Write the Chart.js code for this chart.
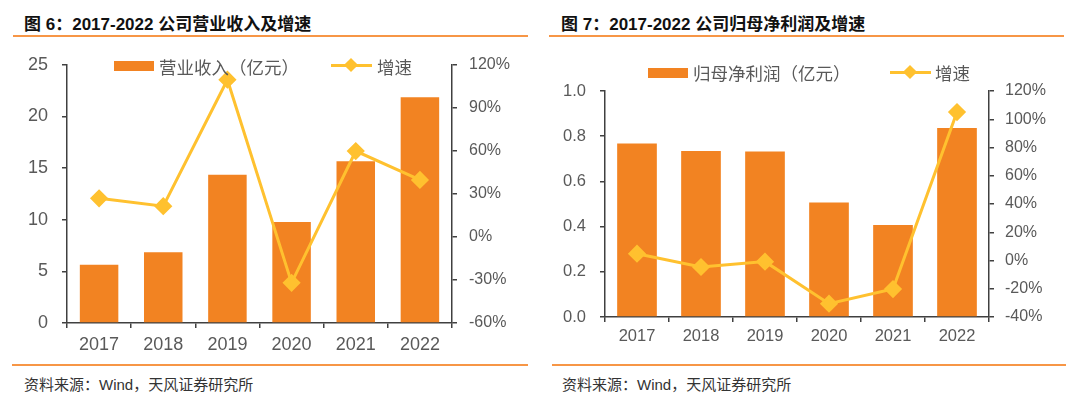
<!DOCTYPE html>
<html>
<head>
<meta charset="utf-8">
<script src="https://cdn.jsdelivr.net/npm/chart.js@4"></script>
<style>
  body { margin: 0; width: 1080px; height: 402px; background: #fff; position: relative; overflow: hidden;
         font-family: "Liberation Sans", "Noto Sans CJK SC", sans-serif; }
  .title { position: absolute; top: 10px; font-size: 17px; font-weight: bold; color: #111; white-space: nowrap; }
  .rule { position: absolute; height: 2px; background: #F79646; }
  .source { position: absolute; top: 373px; font-size: 15px; color: #333; white-space: nowrap; }
  .box { position: absolute; }
  .legend { position: absolute; font-size: 17.5px; color: #595959; white-space: nowrap; font-family: "Noto Sans CJK SC", sans-serif; }
  .lg-bar { position: absolute; width: 40px; height: 10px; background: #F28322; }
  .lg-line { position: absolute; width: 41px; height: 3px; background: #FFC12F; }
  .lg-line::after { content: ""; position: absolute; left: 15px; top: -4px; width: 10px; height: 10px; background: #FFC12F; transform: rotate(45deg); }
</style>
</head>
<body>
<div class="title" style="left:24px">图 6：2017-2022 公司营业收入及增速</div>
<div class="rule" style="left:13px; top:35px; width:515px"></div>
<div class="title" style="left:561px">图 7：2017-2022 公司归母净利润及增速</div>
<div class="rule" style="left:549px; top:35px; width:515px"></div>

<div class="box" style="left:12px; top:40px; width:516px; height:322px"><canvas id="chartRevenue"></canvas></div>
<div class="box" style="left:552px; top:40px; width:516px; height:320px"><canvas id="chartProfit"></canvas></div>

<div class="lg-bar" style="left:114px; top:61px"></div>
<div class="legend" style="left:159px; top:54px">营业收入（亿元）</div>
<div class="lg-line" style="left:331px; top:64px"></div>
<div class="legend" style="left:377px; top:54px">增速</div>

<div class="lg-bar" style="left:648px; top:68px"></div>
<div class="legend" style="left:693px; top:60px">归母净利润（亿元）</div>
<div class="lg-line" style="left:890px; top:71px"></div>
<div class="legend" style="left:935px; top:60px">增速</div>

<div class="rule" style="left:12px; top:364px; width:516px"></div>
<div class="source" style="left:24px">资料来源：Wind，天风证券研究所</div>
<div class="rule" style="left:552px; top:364px; width:514px"></div>
<div class="source" style="left:562px">资料来源：Wind，天风证券研究所</div>

<script>
const years = ['2017', '2018', '2019', '2020', '2021', '2022'];

// 营业收入（亿元）及增速（%）
const revenue = [5.65, 6.84, 14.35, 9.77, 15.65, 21.87];
const revenueGrowth = [26.9, 21.4, 109.6, -32.0, 59.9, 39.7];

// 归母净利润（亿元）及增速（%）
const profit = [0.768, 0.734, 0.732, 0.507, 0.407, 0.836];
const profitGrowth = [4.8, -4.6, -0.8, -30.6, -20.2, 105.1];

// axis ranges [min, max, step]
const revenueAxis = [0, 25, 5];
const revenueGrowthAxis = [-60, 120, 30];
const profitAxis = [0, 1.0, 0.2];
const profitGrowthAxis = [-40, 120, 20];

const barColor = '#F28322';
const lineColor = '#FFC12F';
const axisColor = '#404040';
const labelColor = '#595959';

Chart.defaults.font.family = '"Liberation Sans", Arial, sans-serif';
Chart.defaults.color = labelColor;

function axisGrid() {
  return { drawOnChartArea: false, drawTicks: true, tickLength: 5, color: axisColor, lineWidth: 1.5 };
}

function makeChart(id, barLabel, bars, growth, leftAxis, rightAxis, dims, leftFmt) {
  return new Chart(document.getElementById(id), {
    type: 'bar',
    data: {
      labels: years,
      datasets: [
        {
          type: 'line',
          label: '增速',
          data: growth,
          yAxisID: 'y1',
          borderColor: lineColor,
          backgroundColor: lineColor,
          borderWidth: 3,
          pointStyle: 'rectRot',
          pointRadius: 7,
          pointHoverRadius: 7,
          order: 0,
        },
        {
          label: barLabel,
          data: bars,
          yAxisID: 'y',
          backgroundColor: barColor,
          categoryPercentage: 1,
          barPercentage: dims.bar,
          order: 1,
        },
      ],
    },
    options: {
      responsive: true,
      maintainAspectRatio: false,
      animation: false,
      layout: { padding: { top: dims.top, left: 0, right: 0, bottom: 0 } },
      plugins: { legend: { display: false }, tooltip: { enabled: false } },
      scales: {
        x: {
          grid: axisGrid(),
          border: { color: axisColor, width: 1.5 },
          ticks: { font: { size: dims.fs }, padding: dims.xp, color: labelColor },
          afterFit: (s) => { s.height = dims.xh; },
        },
        y: {
          position: 'left',
          min: leftAxis[0],
          max: leftAxis[1],
          grid: axisGrid(),
          border: { color: axisColor, width: 1.5 },
          ticks: { stepSize: leftAxis[2], font: { size: dims.fs }, padding: dims.lp, callback: leftFmt },
          afterFit: (s) => { s.width = dims.lw; },
        },
        y1: {
          position: 'right',
          min: rightAxis[0],
          max: rightAxis[1],
          grid: axisGrid(),
          border: { color: axisColor, width: 1.5 },
          ticks: { stepSize: rightAxis[2], font: { size: 16 }, padding: dims.rp, callback: (v) => v + '%' },
          afterFit: (s) => { s.width = dims.rw; },
        },
      },
    },
  });
}

makeChart('chartRevenue', '营业收入（亿元）', revenue, revenueGrowth, revenueAxis, revenueGrowthAxis,
  { top: 24, xh: 39, lw: 55, rw: 76, lp: 14, rp: 12, xp: 6, fs: 18, bar: 0.6 }, (v) => v);

makeChart('chartProfit', '归母净利润（亿元）', profit, profitGrowth, profitAxis, profitGrowthAxis,
  { top: 51, xh: 43, lw: 53, rw: 79, lp: 14, rp: 11, xp: 5, fs: 16.5, bar: 0.62 }, (v) => v.toFixed(1));
</script>
</body>
</html>
